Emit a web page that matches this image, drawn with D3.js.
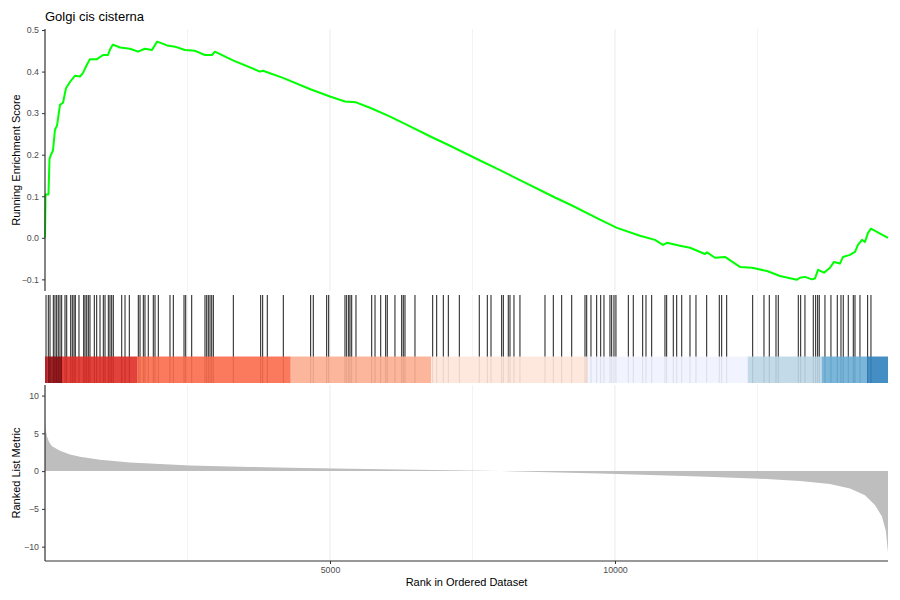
<!DOCTYPE html>
<html><head><meta charset="utf-8">
<script src="https://cdn.jsdelivr.net/npm/d3@7"></script>
<style>
html,body{margin:0;padding:0;background:#fff;}
text{font-family:"Liberation Sans",Arial,Helvetica,sans-serif;}
</style></head>
<body><svg id="chart" width="900" height="600"></svg>
<script>
const title = "Golgi cis cisterna";
const nGenes = 14790;

// running enrichment score (rank, score)
const esRank = [0,9,61,79,105,140,175,211,263,316,368,439,526,614,667,737,789,912,1018,1105,1140,1193,1316,1491,1632,1754,1877,1965,2053,2140,2281,2456,2632,2807,2930,2982,3298,3772,3825,4175,4667,5000,5263,5456,5702,6018,6316,6789,7070,7632,7983,8333,8947,9228,9737,10035,10439,10702,10842,10912,11140,11316,11579,11614,11754,11930,12193,12404,12667,12895,13193,13246,13333,13456,13509,13562,13667,13772,13842,13947,14000,14123,14211,14263,14333,14386,14439,14491,14790];
const esScore = [0,0.104,0.104,0.19,0.2,0.21,0.26,0.27,0.32,0.325,0.36,0.375,0.39,0.388,0.397,0.417,0.43,0.43,0.44,0.44,0.453,0.465,0.458,0.455,0.448,0.455,0.452,0.472,0.468,0.463,0.46,0.452,0.45,0.44,0.44,0.448,0.427,0.40,0.402,0.385,0.357,0.34,0.328,0.326,0.313,0.294,0.274,0.242,0.224,0.186,0.163,0.139,0.097,0.079,0.044,0.024,0.005,-0.005,-0.017,-0.012,-0.019,-0.024,-0.039,-0.035,-0.048,-0.046,-0.07,-0.072,-0.08,-0.092,-0.101,-0.096,-0.094,-0.1,-0.098,-0.077,-0.084,-0.072,-0.058,-0.062,-0.046,-0.041,-0.034,-0.017,-0.005,-0.01,0.012,0.022,0.0];

// ranks of gene-set members
const hitRanks = [18,58,88,146,175,205,233,263,293,351,381,451,479,509,532,596,679,702,732,760,789,865,907,965,1023,1053,1111,1140,1170,1198,1346,1404,1479,1637,1667,1725,1754,1812,1900,1930,1988,2193,2251,2439,2469,2574,2807,2837,2865,2895,2925,2953,3304,
3784,3819,3900,4181,4661,4707,4942,4977,5263,5293,5328,5351,5381,5456,5732,5790,5890,5977,6005,6140,6258,6286,6316,6491,6802,6872,6988,7076,7269,
7619,7760,7825,8012,8041,8128,8158,8228,8333,8772,8918,9065,9241,9474,9504,9579,9679,9749,9807,9912,9942,9982,10017,10234,10321,10486,10544,10644,10877,10907,11023,
11083,11171,11316,11421,11609,11830,11872,11960,12416,12614,12707,12825,12865,13216,13258,13333,13479,13521,13556,13584,13684,13789,13900,13965,14005,14093,14181,14211,14298,14433,14491];

// ranked list metric (rank, value)
const metricRank = [0,9,35,70,123,263,439,614,965,1491,2018,2544,3596,4298,5351,6228,7105,7983,9737,11491,12544,13246,13772,14123,14386,14561,14684,14754,14790];
const metricValue = [6.8,5.6,4.6,3.9,3.3,2.7,2.2,1.9,1.5,1.15,0.95,0.75,0.55,0.45,0.3,0.2,0.1,0.0,-0.3,-0.7,-1.0,-1.3,-1.7,-2.3,-3.2,-4.5,-6,-8,-10.8];

// colour band segments (end rank of each segment)
const bandEnd = [50,298,1614,4311,6772,9521,12328,13627,14416,14790];
const bandColor = ["#b8151b","#8e0c11","#de2d26","#fb6a4a","#fcae91","#fee5d9","#eff3ff","#bdd7e7","#6baed6","#3182bd"];

const esTicks = [0.5,0.4,0.3,0.2,0.1,0.0,-0.1];
const metricTicks = [10,5,0,-5,-10];
const xTicks = [5000,10000];
const gridTicks = [2500,5000,7500,10000,12500];

const svg = d3.select("#chart");
const L = 45, R = 888;
const x = d3.scaleLinear().domain([0, nGenes]).range([L, R]);

const pTop = {y0: 29, y1: 291};
const pMid = {y0: 295, y1: 383, band0: 356.5};
const pBot = {y0: 385, y1: 561};

const yES = d3.scaleLinear().domain([-0.128, 0.5025]).range([pTop.y1, pTop.y0]);
const yM = d3.scaleLinear().domain([-11.9, 11.4]).range([pBot.y1, pBot.y0]);

// grid lines
[[pTop.y0, pTop.y1],[pMid.y0, pMid.y1],[pBot.y0, pBot.y1]].forEach(([a,b])=>{
  svg.append("g").selectAll("line").data(gridTicks).join("line")
    .attr("x1", d=>x(d)).attr("x2", d=>x(d)).attr("y1", a).attr("y2", b)
    .attr("stroke", "#ebebeb").attr("stroke-width", d => d%5000===0 ? 1 : 0.6);
});

// top panel
const esData = esRank.map((r,i)=>[r, esScore[i]]);
svg.append("path").datum(esData)
  .attr("d", d3.line().x(d=>x(d[0])).y(d=>yES(d[1])))
  .attr("fill","none").attr("stroke","#00ff00").attr("stroke-width",2).attr("stroke-linejoin","round");

const axL1 = svg.append("g").attr("transform", `translate(${L},0)`)
  .call(d3.axisLeft(yES).tickValues(esTicks).tickFormat(d3.format(".1f")).tickSize(3).tickPadding(3));
axL1.select(".domain").attr("d", `M0,${pTop.y0}V${pTop.y1}`);

// middle panel
svg.append("g").selectAll("line").data(hitRanks).join("line")
  .attr("x1", d=>x(d)).attr("x2", d=>x(d)).attr("y1", pMid.y0).attr("y2", pMid.y1)
  .attr("stroke","#000").attr("stroke-width",0.9);
const bandStart = [0].concat(bandEnd.slice(0,-1));
svg.append("g").selectAll("rect").data(bandEnd).join("rect")
  .attr("x", (d,i)=>x(bandStart[i])).attr("width", (d,i)=>x(d)-x(bandStart[i]))
  .attr("y", pMid.band0).attr("height", pMid.y1 - pMid.band0)
  .attr("fill", (d,i)=>bandColor[i]).attr("fill-opacity",0.9);

// bottom panel
const mData = metricRank.map((r,i)=>[r, metricValue[i]]);
svg.append("path").datum(mData)
  .attr("d", d3.area().x(d=>x(d[0])).y0(yM(0)).y1(d=>yM(d[1])))
  .attr("fill","#bebebe");

const axL2 = svg.append("g").attr("transform", `translate(${L},0)`)
  .call(d3.axisLeft(yM).tickValues(metricTicks).tickSize(3).tickPadding(3));
axL2.select(".domain").attr("d", `M0,${pBot.y0}V${pBot.y1}`);

const axB = svg.append("g").attr("transform", `translate(0,${pBot.y1})`)
  .call(d3.axisBottom(x).tickValues(xTicks).tickFormat(d3.format("d")).tickSize(3).tickPadding(3));
axB.select(".domain").attr("d", `M${L},0H${R}`);

[axL1, axL2, axB].forEach(a=>{
  a.select(".domain").attr("stroke","#333").attr("stroke-width",1.2);
  a.selectAll(".tick line").attr("stroke","#333");
  a.selectAll(".tick text").attr("fill","#4d4d4d").attr("font-size","8.8px")
   .attr("font-family","Liberation Sans, Arial, sans-serif");
});

// texts
svg.append("text").attr("x", 45).attr("y", 21).attr("font-size","13px").attr("fill","#000").text(title);
svg.append("text").attr("transform", `translate(20,${(pTop.y0+pTop.y1)/2}) rotate(-90)`)
  .attr("text-anchor","middle").attr("font-size","11px").text("Running Enrichment Score");
svg.append("text").attr("transform", `translate(20,${(pBot.y0+pBot.y1)/2}) rotate(-90)`)
  .attr("text-anchor","middle").attr("font-size","11px").text("Ranked List Metric");
svg.append("text").attr("x", (L+R)/2).attr("y", 586).attr("text-anchor","middle")
  .attr("font-size","11px").text("Rank in Ordered Dataset");
</script></body></html>
